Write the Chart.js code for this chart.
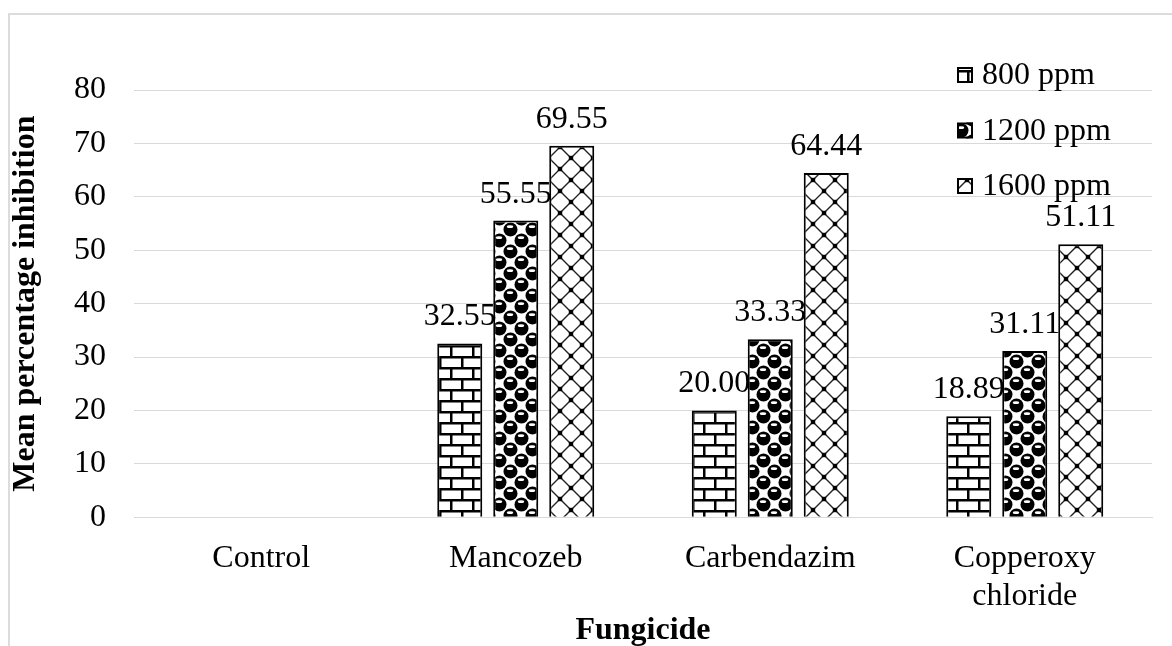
<!DOCTYPE html>
<html>
<head>
<meta charset="utf-8">
<script src="https://cdn.jsdelivr.net/npm/chart.js@4.4.1/dist/chart.umd.min.js"></script>
<style>
  html, body { margin: 0; padding: 0; background: #fff; overflow: hidden; width: 1172px; height: 646px; }
  #frame { position: absolute; left: 8px; top: 13px; width: 1200px; height: 700px;
           border-left: 2px solid #dcdcdc; border-top: 2px solid #dcdcdc; }
  #c { display: block; }
</style>
</head>
<body>
<div id="frame"><canvas id="c" width="1162" height="632"></canvas></div>
<script>
// ---- data ----
const categories = ['Control', 'Mancozeb', 'Carbendazim', ['Copperoxy', 'chloride']];
const seriesNames = ['800 ppm', '1200 ppm', '1600 ppm'];
const values800  = [null, 32.55, 20.00, 18.89];
const values1200 = [null, 55.55, 33.33, 31.11];
const values1600 = [null, 69.55, 64.44, 51.11];
const yTicks = [0, 10, 20, 30, 40, 50, 60, 70, 80];
const yTitle = 'Mean percentage inhibition';
const xTitle = 'Fungicide';

const FONT = "'Liberation Serif', 'Times New Roman', serif";
const FS = 32;

// ---- patterns ----
function makeTile(draw) {
  const t = document.createElement('canvas');
  t.width = 22; t.height = 22;
  const g = t.getContext('2d');
  g.fillStyle = '#fff'; g.fillRect(0, 0, 22, 22);
  draw(g);
  return document.getElementById('c').getContext('2d').createPattern(t, 'repeat');
}
const brick = makeTile(g => {
  g.fillStyle = '#000';
  g.fillRect(0, 0, 22, 2.5);
  g.fillRect(0, 11, 22, 2.5);
  g.fillRect(0, 0, 2.5, 11);
  g.fillRect(11, 11, 2.5, 11);
});
const sphere = makeTile(g => {
  const balls = [[5.5, 5.5], [16.5, 16.5], [-5.5, 16.5], [16.5, -5.5], [27.5, 16.5], [16.5, 27.5], [-5.5, -5.5], [27.5, 27.5], [5.5, 27.5], [27.5, 5.5], [-5.5, 5.5], [5.5, -5.5]];
  balls.forEach(([x, y]) => {
    if ((Math.round((x + 5.5) / 11) + Math.round((y + 5.5) / 11)) % 2) return;
    g.fillStyle = '#000';
    g.beginPath(); g.arc(x, y, 7, 0, Math.PI * 2); g.fill();
    g.fillStyle = '#fff';
    g.beginPath(); g.ellipse(x - 0.5, y - 2.8, 3.2, 1.4, 0, 0, Math.PI * 2); g.fill();
  });
});
const diamond = makeTile(g => {
  g.strokeStyle = '#222'; g.lineWidth = 1.4;
  g.beginPath();
  g.moveTo(0, 0); g.lineTo(22, 22);
  g.moveTo(22, 0); g.lineTo(0, 22);
  g.moveTo(11, -11); g.lineTo(33, 11);
  g.moveTo(-11, 11); g.lineTo(11, 33);
  g.moveTo(11, -11); g.lineTo(-11, 11);
  g.moveTo(33, 11); g.lineTo(11, 33);
  g.stroke();
  g.fillStyle = '#000';
  const d = 2.2;
  g.fillRect(11 - d, 11 - d, 2 * d, 2 * d);
  [[0,0],[22,0],[0,22],[22,22]].forEach(([x,y]) => g.fillRect(x - d, y - d, 2 * d, 2 * d));
});

// ---- plugins ----
const valueLabels = {
  id: 'valueLabels',
  afterDatasetsDraw(chart) {
    const ctx = chart.ctx;
    ctx.save();
    ctx.font = FS + 'px ' + FONT;
    ctx.fillStyle = '#000';
    ctx.textAlign = 'center';
    ctx.textBaseline = 'alphabetic';
    chart.data.datasets.forEach((ds, i) => {
      chart.getDatasetMeta(i).data.forEach((bar, j) => {
        const v = ds.data[j];
        if (v === null || v === undefined) return;
        ctx.fillText(v.toFixed(2), bar.x, bar.y - 18);
      });
    });
    ctx.restore();
  }
};
const sideLegend = {
  id: 'sideLegend',
  afterDraw(chart) {
    const ctx = chart.ctx, ca = chart.chartArea;
    ctx.save();
    ctx.font = FS + 'px ' + FONT;
    ctx.textAlign = 'left';
    ctx.textBaseline = 'alphabetic';
    chart.data.datasets.forEach((ds, i) => {
      const bx = ca.right - 195, by = ca.top - 23 + i * 55.5;
      ctx.fillStyle = ds.backgroundColor;
      ctx.fillRect(bx, by, 16, 16);
      ctx.strokeStyle = '#000'; ctx.lineWidth = 2;
      ctx.strokeRect(bx + 1, by + 1, 14, 14);
      ctx.fillStyle = '#000';
      ctx.fillText(ds.label, bx + 25, ca.top - 6 + i * 55.5);
    });
    ctx.restore();
  }
};

// ---- chart ----
const barCommon = { borderColor: '#000', borderWidth: 2, categoryPercentage: 0.66, barPercentage: 0.804 };
new Chart(document.getElementById('c'), {
  type: 'bar',
  data: {
    labels: categories,
    datasets: [
      Object.assign({ label: seriesNames[0], data: values800,  backgroundColor: brick }, barCommon),
      Object.assign({ label: seriesNames[1], data: values1200, backgroundColor: sphere }, barCommon),
      Object.assign({ label: seriesNames[2], data: values1600, backgroundColor: diamond }, barCommon)
    ]
  },
  options: {
    responsive: false,
    animation: false,
    layout: { padding: { left: 0, right: 20, top: 75, bottom: 0 } },
    plugins: { legend: { display: false }, tooltip: { enabled: false } },
    scales: {
      x: {
        grid: { display: false },
        border: { display: true, color: '#d9d9d9', width: 1 },
        ticks: { color: '#000', padding: 14, font: { family: FONT, size: FS, lineHeight: 1.2 }, maxRotation: 0, autoSkip: false },
        title: { display: true, text: xTitle, color: '#000', padding: { top: -15, bottom: 0 },
                 font: { family: FONT, size: FS, weight: 'bold', lineHeight: 1.0 } }
      },
      y: {
        min: yTicks[0], max: yTicks[yTicks.length - 1],
        afterBuildTicks(scale) { scale.ticks = yTicks.map(v => ({ value: v })); },
        grid: { color: '#d9d9d9', lineWidth: 1, drawTicks: false },
        border: { display: false },
        ticks: { color: '#000', padding: 28, font: { family: FONT, size: FS } },
        title: { display: true, text: yTitle, color: '#000', padding: { top: 0, bottom: 4 },
                 font: { family: FONT, size: FS, weight: 'bold', lineHeight: 1.0 } }
      }
    }
  },
  plugins: [valueLabels, sideLegend]
});
</script>
</body>
</html>
